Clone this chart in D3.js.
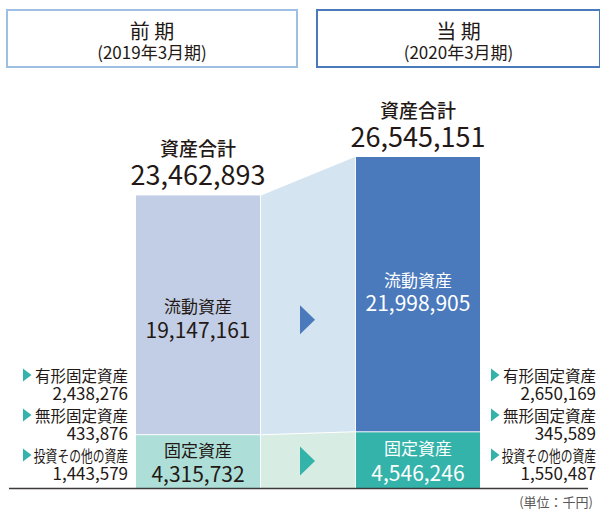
<!DOCTYPE html>
<html lang="ja">
<head>
    <meta charset="utf-8">
    <title>資産合計</title>
    <script src="https://cdnjs.cloudflare.com/ajax/libs/d3/7.8.5/d3.min.js"></script>
    <style>
        body { margin: 0; background: #fff; }
        svg { display: block; font-family: "Noto Sans CJK JP", "Noto Sans", sans-serif; }
        .dark { fill: #231815; }
    </style>
</head>
<body>
<div id="chart"></div>
<script>
    // data
    var periods = ["前 期", "当 期"];
    var periodSub = ["(2019年3月期)", "(2020年3月期)"];
    var totalAssets = [23462893, 26545151];
    var currentAssets = [19147161, 21998905];
    var fixedAssets = [4315732, 4546246];
    var breakdownLabels = ["有形固定資産", "無形固定資産", "投資その他の資産"];
    var breakdownPrev = [2438276, 433876, 1443579];
    var breakdownCurr = [2650169, 345589, 1550487];

    var W = 600, H = 509;
    var fmt = d3.format(",");

    var svg = d3.select("#chart").append("svg")
        .attr("width", W).attr("height", H);

    var x = d3.scaleBand().domain(periods).range([136, 480]).paddingInner(0.436);
    var y = d3.scaleLinear().domain([0, d3.max(totalAssets)]).range([488, 157]);

    var colCur = ["#c2cee5", "#4a79bc"],
        colFix = ["#addfd8", "#33b3a9"];

    // header boxes
    var boxes = [[7, 297], [317, 600]];
    var hdr = svg.selectAll("g.hdr").data(periods).enter().append("g").attr("class", "hdr");
    hdr.append("rect")
        .attr("x", (d, i) => boxes[i][0]).attr("y", 10)
        .attr("width", (d, i) => boxes[i][1] - boxes[i][0]).attr("height", 57)
        .attr("fill", "#fff")
        .attr("stroke", (d, i) => i ? "#4a79bc" : "#9fbfe2")
        .attr("stroke-width", 2);
    hdr.append("text")
        .attr("x", (d, i) => (boxes[i][0] + boxes[i][1]) / 2).attr("y", 30)
        .attr("text-anchor", "middle").attr("dominant-baseline", "central")
        .attr("class", "dark").style("font-size", "20px")
        .text(d => d);
    hdr.append("text")
        .attr("x", (d, i) => (boxes[i][0] + boxes[i][1]) / 2).attr("y", 51)
        .attr("text-anchor", "middle").attr("dominant-baseline", "central")
        .attr("class", "dark").style("font-size", "17px")
        .text((d, i) => periodSub[i]);

    // connector between bars
    var xl = x(periods[0]) + x.bandwidth() + 1, xr = x(periods[1]) - 1;
    svg.append("polygon")
        .attr("points", [[xl, y(totalAssets[0])], [xr, y(totalAssets[1])],
                         [xr, y(fixedAssets[1])], [xl, y(fixedAssets[0])]].join(" "))
        .attr("fill", "#d5e4f1");
    svg.append("polygon")
        .attr("points", [[xl, y(fixedAssets[0]) + 1], [xr, y(fixedAssets[1]) + 1],
                         [xr, y(0)], [xl, y(0)]].join(" "))
        .attr("fill", "#d7ede3");

    // bars
    svg.selectAll("rect.cur").data(periods).enter().append("rect")
        .attr("class", "cur")
        .attr("x", d => x(d)).attr("width", x.bandwidth())
        .attr("y", (d, i) => y(totalAssets[i]))
        .attr("height", (d, i) => y(fixedAssets[i]) - y(totalAssets[i]))
        .attr("fill", (d, i) => colCur[i]);
    svg.selectAll("rect.fix").data(periods).enter().append("rect")
        .attr("class", "fix")
        .attr("x", d => x(d)).attr("width", x.bandwidth())
        .attr("y", (d, i) => y(fixedAssets[i]) + 1)
        .attr("height", (d, i) => y(0) - y(fixedAssets[i]) - 1)
        .attr("fill", (d, i) => colFix[i]);

    // arrows
    var ax = (xl + xr) / 2 - 8;
    var midCur = (y(totalAssets[0]) + y(fixedAssets[0])) / 2 + 5;
    var midFix = (y(fixedAssets[0]) + y(0)) / 2;
    svg.append("path")
        .attr("d", "M" + ax + "," + (midCur - 14.5) + "l15,14.5l-15,14.5z")
        .attr("fill", "#4a79bc");
    svg.append("path")
        .attr("d", "M" + ax + "," + (midFix - 14.5) + "l15,14.5l-15,14.5z")
        .attr("fill", "#33b3a9");

    // baseline
    svg.append("line")
        .attr("x1", 9).attr("x2", 588).attr("y1", y(0) + 0.5).attr("y2", y(0) + 0.5)
        .attr("stroke", "#3e3a39").attr("stroke-width", 1.5);

    // total labels
    var tl = svg.selectAll("g.tot").data(periods).enter().append("g").attr("class", "tot");
    tl.append("text")
        .attr("x", d => x(d) + x.bandwidth() / 2)
        .attr("y", (d, i) => y(totalAssets[i]) - 48)
        .attr("text-anchor", "middle").attr("dominant-baseline", "central")
        .attr("class", "dark").style("font-size", "19px").style("font-weight", 500)
        .text("資産合計");
    tl.append("text")
        .attr("x", d => x(d) + x.bandwidth() / 2)
        .attr("y", (d, i) => y(totalAssets[i]) - 22)
        .attr("text-anchor", "middle").attr("dominant-baseline", "central")
        .attr("class", "dark").style("font-size", "27px")
        .text((d, i) => fmt(totalAssets[i]));

    // current assets labels
    var curOff = [[-9, 14], [-15, 8]];
    var cl = svg.selectAll("g.curlab").data(periods).enter().append("g").attr("class", "curlab");
    cl.append("text")
        .attr("x", d => x(d) + x.bandwidth() / 2)
        .attr("y", (d, i) => (y(totalAssets[i]) + y(fixedAssets[i])) / 2 + curOff[i][0])
        .attr("text-anchor", "middle").attr("dominant-baseline", "central")
        .attr("fill", (d, i) => i ? "#fff" : "#231815").style("font-size", "17px")
        .text("流動資産");
    cl.append("text")
        .attr("x", d => x(d) + x.bandwidth() / 2)
        .attr("y", (d, i) => (y(totalAssets[i]) + y(fixedAssets[i])) / 2 + curOff[i][1])
        .attr("text-anchor", "middle").attr("dominant-baseline", "central")
        .attr("fill", (d, i) => i ? "#fff" : "#231815").style("font-size", "21px")
        .text((d, i) => fmt(currentAssets[i]));

    // fixed assets labels
    var fl = svg.selectAll("g.fixlab").data(periods).enter().append("g").attr("class", "fixlab");
    fl.append("text")
        .attr("x", d => x(d) + x.bandwidth() / 2)
        .attr("y", (d, i) => (y(fixedAssets[i]) + y(0)) / 2 - 12)
        .attr("text-anchor", "middle").attr("dominant-baseline", "central")
        .attr("fill", (d, i) => i ? "#fff" : "#231815").style("font-size", "17px")
        .text("固定資産");
    fl.append("text")
        .attr("x", d => x(d) + x.bandwidth() / 2)
        .attr("y", (d, i) => (y(fixedAssets[i]) + y(0)) / 2 + 12)
        .attr("text-anchor", "middle").attr("dominant-baseline", "central")
        .attr("fill", (d, i) => i ? "#fff" : "#231815").style("font-size", "21px")
        .text((d, i) => fmt(fixedAssets[i]));

    // breakdown side labels
    var sideRight = [128, 596];
    var rowY = [375, 415, 455];
    [breakdownPrev, breakdownCurr].forEach(function(vals, s) {
        var g = svg.append("g");
        var rows = g.selectAll("g").data(breakdownLabels).enter().append("g");
        rows.append("text")
            .attr("transform", (d, i) => "translate(" + sideRight[s] + "," + rowY[i] + ")" +
                (d.length > 6 ? " scale(0.76,1)" : ""))
            .attr("text-anchor", "end").attr("dominant-baseline", "central")
            .attr("class", "dark").style("font-size", "15.5px")
            .text(d => d);
        rows.append("path")
            .attr("d", (d, i) => "M" + (sideRight[s] - 105) + "," + (rowY[i] - 6.5) + "l8.5,6.5l-8.5,6.5z")
            .attr("fill", "#33b3a9");
        rows.append("text")
            .attr("x", sideRight[s]).attr("y", (d, i) => rowY[i] + 17)
            .attr("text-anchor", "end").attr("dominant-baseline", "central")
            .attr("class", "dark").style("font-size", "17px")
            .text((d, i) => fmt(vals[i]));
    });

    // unit
    svg.append("text")
        .attr("x", 593).attr("y", 501)
        .attr("text-anchor", "end").attr("dominant-baseline", "central")
        .attr("fill", "#595757").style("font-size", "13px")
        .text("(単位：千円)");
</script>
</body>
</html>
